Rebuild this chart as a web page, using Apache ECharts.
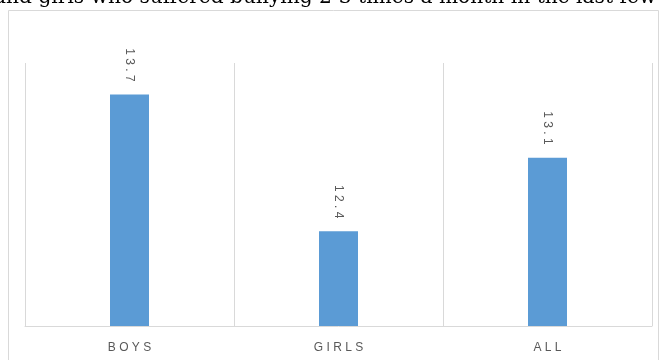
<!DOCTYPE html>
<html>
<head>
<meta charset="utf-8">
<script src="https://cdn.jsdelivr.net/npm/echarts@6/dist/echarts.min.js"></script>
<style>
html,body{margin:0;padding:0;background:#fff;}
#chart{width:667px;height:360px;}
</style>
</head>
<body>
<div id="chart"></div>
<script>
var titleText = "and girls who suffered bullying 2-3 times a month in the last few";
var categories = ["BOYS", "GIRLS", "ALL"];
var values = [13.7, 12.4, 13.1];
var yMin = 11.5;
var yMax = 14;

function spaced(s, sep) { return String(s).split('').join(sep); }

var chart = echarts.init(document.getElementById('chart'), null, {renderer: 'canvas'});
chart.setOption({
  animation: false,
  backgroundColor: '#ffffff',
  graphic: [
    {
      type: 'rect',
      shape: {x: 8.5, y: 10.5, width: 650, height: 400},
      style: {fill: 'none', stroke: '#d9d9d9', lineWidth: 1},
      z: 0
    },
    {
      type: 'text',
      left: -6,
      top: -12,
      style: {
        text: titleText,
        font: '20.2px "DejaVu Serif", serif',
        fill: '#000000'
      },
      z: 10
    }
  ],
  grid: {left: 25, right: 15, top: 63, bottom: 34, containLabel: false},
  xAxis: {
    type: 'category',
    data: categories,
    boundaryGap: true,
    axisLine: {show: true, lineStyle: {color: '#d9d9d9', width: 1}},
    axisTick: {show: false},
    splitLine: {show: true, lineStyle: {color: '#d9d9d9', width: 1}},
    axisLabel: {
      color: '#595959',
      fontSize: 12,
      fontFamily: '"Liberation Sans", Arial, sans-serif',
      margin: 16,
      formatter: function (v) { return spaced(v, ' '); }
    }
  },
  yAxis: {
    type: 'value',
    min: yMin,
    max: yMax,
    interval: 0.5,
    show: false,
    splitLine: {show: false}
  },
  series: [{
    type: 'bar',
    data: values,
    barWidth: 39,
    itemStyle: {color: '#5b9bd5'},
    label: {
      show: true,
      position: 'top',
      distance: 13,
      rotate: -90,
      align: 'right',
      verticalAlign: 'middle',
      color: '#595959',
      fontSize: 12,
      fontFamily: '"Liberation Sans", Arial, sans-serif',
      formatter: function (p) { return spaced(p.value.toFixed(1), ' '); }
    }
  }]
});
</script>
</body>
</html>
